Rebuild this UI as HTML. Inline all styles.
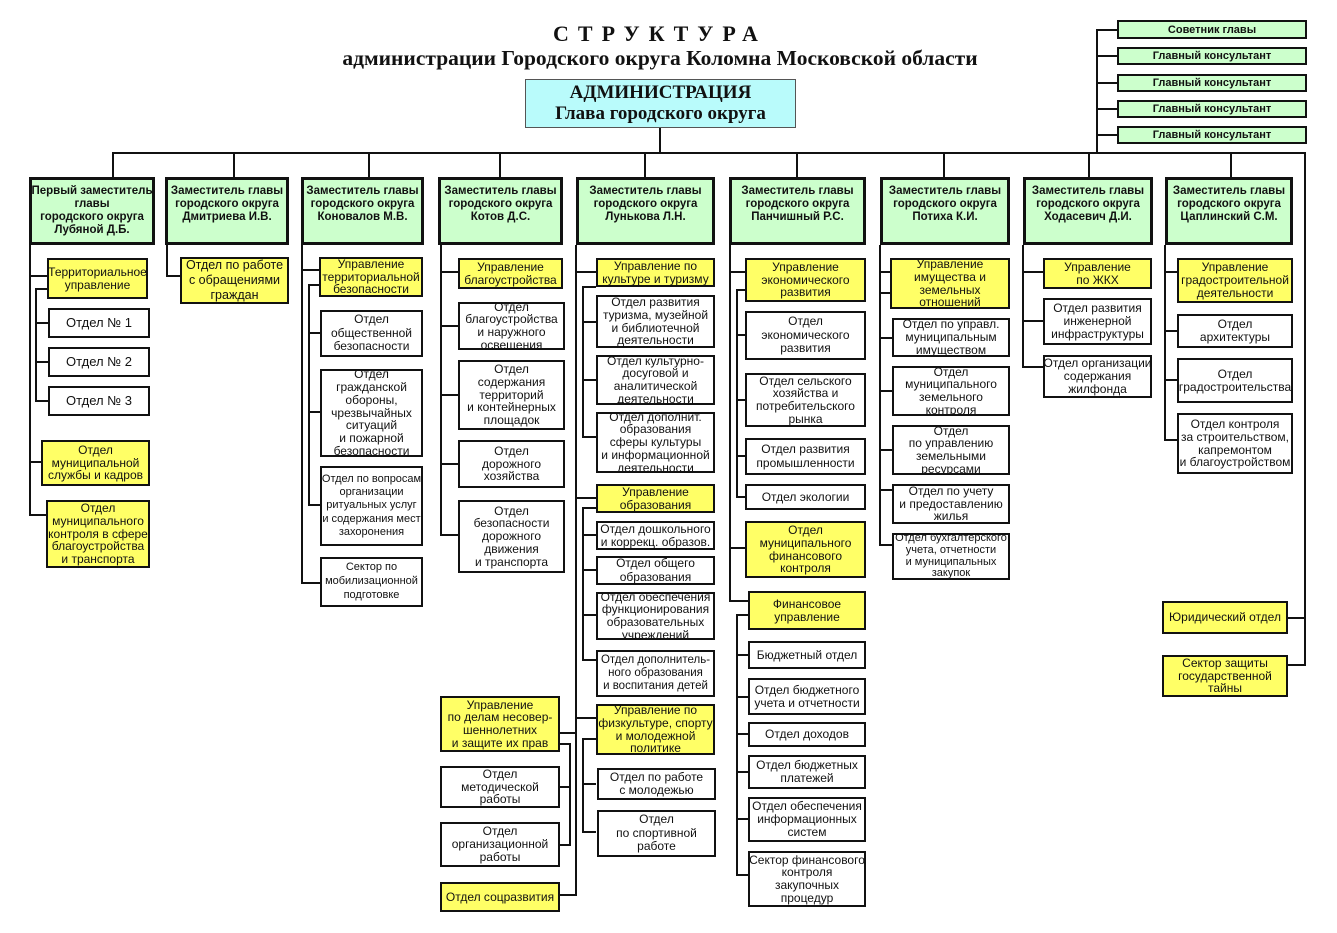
<!DOCTYPE html>
<html><head><meta charset="utf-8">
<style>
body{margin:0;width:1337px;height:933px;background:#fff;position:relative;overflow:hidden;font-family:"Liberation Sans","DejaVu Sans",sans-serif;}
.b{position:absolute;box-sizing:border-box;border:2px solid #111;display:flex;align-items:center;justify-content:center;text-align:center;font-size:12px;line-height:1.06;color:#111;overflow:hidden;white-space:nowrap}
.g{background:#ccffcc;font-weight:bold;font-size:11.5px;border-width:3px;align-items:flex-start;padding-top:5px;line-height:1.12}
.c{background:#ccffcc;font-weight:bold;font-size:11px;line-height:14px}
.y{background:#ffff66}
.w{background:#fff}
.h{position:absolute;height:2px;background:#111}
.v{position:absolute;width:2px;background:#111}
.t{position:absolute;font-family:"Liberation Serif",serif;font-weight:bold;text-align:center;color:#111}
</style></head><body>
<div class="t" style="left:300px;top:21px;width:720px;font-size:22px;letter-spacing:9px">СТРУКТУРА</div>
<div class="t" style="left:280px;top:46px;width:760px;font-size:21.5px">администрации Городского округа Коломна Московской области</div>
<div class="b" style="left:525px;top:79px;width:271px;height:49px;background:#b9fbfb;border:1px solid #555;font-family:'Liberation Serif',serif;font-weight:bold;font-size:19px;line-height:1.1">АДМИНИСТРАЦИЯ<br>Глава городского округа</div>

<!-- top lines -->
<div class="v" style="left:659px;top:128px;height:26px"></div>
<div class="h" style="left:113px;top:152px;width:1193px"></div>
<div class="v" style="left:1304px;top:152px;height:514px"></div>
<div class="v" style="left:1096px;top:29px;height:124px"></div>
<div class="h" style="left:1096px;top:29px;width:21px"></div>
<div class="h" style="left:1096px;top:55px;width:21px"></div>
<div class="h" style="left:1096px;top:82px;width:21px"></div>
<div class="h" style="left:1096px;top:108px;width:21px"></div>
<div class="h" style="left:1096px;top:134px;width:21px"></div>
<div class="b c" style="left:1117px;top:20px;width:190px;height:19px">Советник главы</div>
<div class="b c" style="left:1117px;top:47px;width:190px;height:18px">Главный консультант</div>
<div class="b c" style="left:1117px;top:74px;width:190px;height:18px">Главный консультант</div>
<div class="b c" style="left:1117px;top:100px;width:190px;height:18px">Главный консультант</div>
<div class="b c" style="left:1117px;top:126px;width:190px;height:18px">Главный консультант</div>

<div class="v" style="left:112px;top:152px;height:26px"></div>
<div class="v" style="left:233px;top:152px;height:26px"></div>
<div class="v" style="left:368px;top:152px;height:26px"></div>
<div class="v" style="left:499px;top:152px;height:26px"></div>
<div class="v" style="left:644px;top:152px;height:26px"></div>
<div class="v" style="left:796px;top:152px;height:26px"></div>
<div class="v" style="left:943px;top:152px;height:26px"></div>
<div class="v" style="left:1088px;top:152px;height:26px"></div>
<div class="v" style="left:1230px;top:152px;height:26px"></div>

<div class="b g" style="left:29px;top:177px;width:126px;height:68px">Первый заместитель<br>главы<br>городского округа<br>Лубяной Д.Б.</div>
<div class="b g" style="left:165px;top:177px;width:124px;height:68px">Заместитель главы<br>городского округа<br>Дмитриева И.В.</div>
<div class="b g" style="left:301px;top:177px;width:123px;height:68px">Заместитель главы<br>городского округа<br>Коновалов М.В.</div>
<div class="b g" style="left:438px;top:177px;width:125px;height:68px">Заместитель главы<br>городского округа<br>Котов Д.С.</div>
<div class="b g" style="left:576px;top:177px;width:139px;height:68px">Заместитель главы<br>городского округа<br>Лунькова Л.Н.</div>
<div class="b g" style="left:729px;top:177px;width:137px;height:68px">Заместитель главы<br>городского округа<br>Панчишный Р.С.</div>
<div class="b g" style="left:880px;top:177px;width:130px;height:68px">Заместитель главы<br>городского округа<br>Потиха К.И.</div>
<div class="b g" style="left:1023px;top:177px;width:130px;height:68px">Заместитель главы<br>городского округа<br>Ходасевич Д.И.</div>
<div class="b g" style="left:1165px;top:177px;width:128px;height:68px">Заместитель главы<br>городского округа<br>Цаплинский С.М.</div>

<!-- col1 -->
<div class="v" style="left:29px;top:245px;height:271px"></div>
<div class="h" style="left:29px;top:275px;width:18px"></div>
<div class="h" style="left:29px;top:461px;width:12px"></div>
<div class="h" style="left:29px;top:514px;width:17px"></div>
<div class="v" style="left:35px;top:288px;height:113px"></div>
<div class="h" style="left:35px;top:288px;width:12px"></div>
<div class="h" style="left:35px;top:322px;width:13px"></div>
<div class="h" style="left:35px;top:361px;width:13px"></div>
<div class="h" style="left:35px;top:400px;width:13px"></div>
<div class="b y" style="left:47px;top:258px;width:101px;height:41px">Территориальное<br>управление</div>
<div class="b w" style="left:48px;top:308px;width:102px;height:30px;font-size:13px">Отдел № 1</div>
<div class="b w" style="left:48px;top:347px;width:102px;height:30px;font-size:13px">Отдел № 2</div>
<div class="b w" style="left:48px;top:386px;width:102px;height:30px;font-size:13px">Отдел № 3</div>
<div class="b y" style="left:41px;top:440px;width:109px;height:46px">Отдел<br>муниципальной<br>службы и кадров</div>
<div class="b y" style="left:46px;top:500px;width:104px;height:68px">Отдел<br>муниципального<br>контроля в сфере<br>благоустройства<br>и транспорта</div>

<!-- col2 -->
<div class="v" style="left:166px;top:245px;height:32px"></div>
<div class="h" style="left:166px;top:275px;width:14px"></div>
<div class="b y" style="left:180px;top:257px;width:109px;height:47px;font-size:12.5px;line-height:1.2">Отдел по работе<br>с обращениями<br>граждан</div>

<!-- col3 -->
<div class="v" style="left:301px;top:245px;height:339px"></div>
<div class="h" style="left:301px;top:269px;width:18px"></div>
<div class="h" style="left:301px;top:582px;width:19px"></div>
<div class="v" style="left:308px;top:284px;height:222px"></div>
<div class="h" style="left:308px;top:284px;width:11px"></div>
<div class="h" style="left:308px;top:332px;width:12px"></div>
<div class="h" style="left:308px;top:411px;width:12px"></div>
<div class="h" style="left:308px;top:504px;width:12px"></div>
<div class="b y" style="left:319px;top:257px;width:104px;height:40px">Управление<br>территориальной<br>безопасности</div>
<div class="b w" style="left:320px;top:310px;width:103px;height:47px;line-height:1.15">Отдел<br>общественной<br>безопасности</div>
<div class="b w" style="left:320px;top:369px;width:103px;height:88px">Отдел<br>гражданской<br>обороны,<br>чрезвычайных<br>ситуаций<br>и пожарной<br>безопасности</div>
<div class="b w" style="left:320px;top:466px;width:103px;height:80px;font-size:11px;line-height:1.2">Отдел по вопросам<br>организации<br>ритуальных услуг<br>и содержания мест<br>захоронения</div>
<div class="b w" style="left:320px;top:557px;width:103px;height:50px;font-size:11px;line-height:1.25">Сектор по<br>мобилизационной<br>подготовке</div>

<!-- col4 -->
<div class="v" style="left:440px;top:245px;height:291px"></div>
<div class="h" style="left:440px;top:271px;width:18px"></div>
<div class="h" style="left:440px;top:325px;width:18px"></div>
<div class="h" style="left:440px;top:394px;width:18px"></div>
<div class="h" style="left:440px;top:463px;width:18px"></div>
<div class="h" style="left:440px;top:534px;width:18px"></div>
<div class="b y" style="left:458px;top:258px;width:105px;height:31px">Управление<br>благоустройства</div>
<div class="b w" style="left:458px;top:302px;width:107px;height:48px">Отдел<br>благоустройства<br>и наружного<br>освещения</div>
<div class="b w" style="left:458px;top:360px;width:107px;height:70px">Отдел<br>содержания<br>территорий<br>и контейнерных<br>площадок</div>
<div class="b w" style="left:458px;top:440px;width:107px;height:48px">Отдел<br>дорожного<br>хозяйства</div>
<div class="b w" style="left:458px;top:500px;width:107px;height:73px">Отдел<br>безопасности<br>дорожного<br>движения<br>и транспорта</div>

<!-- col5 -->
<div class="v" style="left:575px;top:245px;height:651px"></div>
<div class="h" style="left:575px;top:271px;width:21px"></div>
<div class="h" style="left:575px;top:497px;width:21px"></div>
<div class="h" style="left:575px;top:717px;width:21px"></div>
<div class="v" style="left:582px;top:286px;height:152px"></div>
<div class="h" style="left:582px;top:286px;width:14px"></div>
<div class="h" style="left:582px;top:321px;width:14px"></div>
<div class="h" style="left:582px;top:379px;width:14px"></div>
<div class="h" style="left:582px;top:436px;width:14px"></div>
<div class="b y" style="left:596px;top:258px;width:119px;height:29px">Управление по<br>культуре и туризму</div>
<div class="b w" style="left:596px;top:295px;width:119px;height:53px">Отдел развития<br>туризма, музейной<br>и библиотечной<br>деятельности</div>
<div class="b w" style="left:596px;top:355px;width:119px;height:50px">Отдел культурно-<br>досуговой и<br>аналитической<br>деятельности</div>
<div class="b w" style="left:596px;top:412px;width:119px;height:61px">Отдел дополнит.<br>образования<br>сферы культуры<br>и информационной<br>деятельности</div>
<div class="v" style="left:582px;top:507px;height:154px"></div>
<div class="h" style="left:582px;top:507px;width:14px"></div>
<div class="h" style="left:582px;top:534px;width:14px"></div>
<div class="h" style="left:582px;top:569px;width:14px"></div>
<div class="h" style="left:582px;top:614px;width:14px"></div>
<div class="h" style="left:582px;top:659px;width:14px"></div>
<div class="b y" style="left:596px;top:484px;width:119px;height:29px">Управление<br>образования</div>
<div class="b w" style="left:596px;top:521px;width:119px;height:29px">Отдел дошкольного<br>и коррекц. образов.</div>
<div class="b w" style="left:596px;top:556px;width:119px;height:29px;line-height:1.15">Отдел общего<br>образования</div>
<div class="b w" style="left:596px;top:592px;width:119px;height:48px">Отдел обеспечения<br>функционирования<br>образовательных<br>учреждений</div>
<div class="b w" style="left:596px;top:650px;width:119px;height:47px;font-size:11.5px;line-height:1.15">Отдел дополнитель-<br>ного образования<br>и воспитания детей</div>
<div class="v" style="left:582px;top:738px;height:95px"></div>
<div class="h" style="left:582px;top:738px;width:14px"></div>
<div class="h" style="left:582px;top:783px;width:14px"></div>
<div class="h" style="left:582px;top:831px;width:14px"></div>
<div class="b y" style="left:596px;top:704px;width:119px;height:51px">Управление по<br>физкультуре, спорту<br>и молодежной<br>политике</div>
<div class="b w" style="left:597px;top:768px;width:119px;height:32px">Отдел по работе<br>с молодежью</div>
<div class="b w" style="left:597px;top:810px;width:119px;height:47px;line-height:1.15">Отдел<br>по спортивной<br>работе</div>
<!-- minors -->
<div class="h" style="left:560px;top:732px;width:16px"></div>
<div class="h" style="left:560px;top:894px;width:16px"></div>
<div class="v" style="left:569px;top:743px;height:103px"></div>
<div class="h" style="left:560px;top:743px;width:10px"></div>
<div class="h" style="left:560px;top:786px;width:10px"></div>
<div class="h" style="left:560px;top:844px;width:10px"></div>
<div class="b y" style="left:440px;top:696px;width:120px;height:56px">Управление<br>по делам несовер-<br>шеннолетних<br>и защите их прав</div>
<div class="b w" style="left:440px;top:766px;width:120px;height:42px">Отдел<br>методической<br>работы</div>
<div class="b w" style="left:440px;top:822px;width:120px;height:45px">Отдел<br>организационной<br>работы</div>
<div class="b y" style="left:440px;top:882px;width:120px;height:30px">Отдел соцразвития</div>

<!-- col6 -->
<div class="v" style="left:729px;top:245px;height:357px"></div>
<div class="h" style="left:729px;top:271px;width:16px"></div>
<div class="h" style="left:729px;top:547px;width:16px"></div>
<div class="h" style="left:729px;top:600px;width:19px"></div>
<div class="v" style="left:736px;top:289px;height:209px"></div>
<div class="h" style="left:736px;top:289px;width:9px"></div>
<div class="h" style="left:736px;top:334px;width:9px"></div>
<div class="h" style="left:736px;top:399px;width:9px"></div>
<div class="h" style="left:736px;top:455px;width:9px"></div>
<div class="h" style="left:736px;top:496px;width:9px"></div>
<div class="b y" style="left:745px;top:258px;width:121px;height:44px">Управление<br>экономического<br>развития</div>
<div class="b w" style="left:745px;top:311px;width:121px;height:49px;line-height:1.15">Отдел<br>экономического<br>развития</div>
<div class="b w" style="left:745px;top:373px;width:121px;height:54px">Отдел сельского<br>хозяйства и<br>потребительского<br>рынка</div>
<div class="b w" style="left:745px;top:438px;width:121px;height:37px;line-height:1.15">Отдел развития<br>промышленности</div>
<div class="b w" style="left:745px;top:484px;width:121px;height:26px">Отдел экологии</div>
<div class="b y" style="left:745px;top:521px;width:121px;height:57px">Отдел<br>муниципального<br>финансового<br>контроля</div>
<div class="v" style="left:736px;top:614px;height:262px"></div>
<div class="h" style="left:736px;top:614px;width:12px"></div>
<div class="h" style="left:736px;top:654px;width:12px"></div>
<div class="h" style="left:736px;top:696px;width:12px"></div>
<div class="h" style="left:736px;top:733px;width:12px"></div>
<div class="h" style="left:736px;top:771px;width:12px"></div>
<div class="h" style="left:736px;top:818px;width:12px"></div>
<div class="h" style="left:736px;top:874px;width:12px"></div>
<div class="b y" style="left:748px;top:591px;width:118px;height:39px">Финансовое<br>управление</div>
<div class="b w" style="left:748px;top:641px;width:118px;height:28px">Бюджетный отдел</div>
<div class="b w" style="left:748px;top:678px;width:118px;height:37px">Отдел бюджетного<br>учета и отчетности</div>
<div class="b w" style="left:748px;top:722px;width:118px;height:25px">Отдел доходов</div>
<div class="b w" style="left:748px;top:755px;width:118px;height:34px">Отдел бюджетных<br>платежей</div>
<div class="b w" style="left:748px;top:797px;width:118px;height:45px">Отдел обеспечения<br>информационных<br>систем</div>
<div class="b w" style="left:748px;top:851px;width:118px;height:56px">Сектор финансового<br>контроля<br>закупочных<br>процедур</div>

<!-- col7 -->
<div class="v" style="left:879px;top:245px;height:301px"></div>
<div class="h" style="left:879px;top:271px;width:11px"></div>
<div class="h" style="left:879px;top:292px;width:11px"></div>
<div class="h" style="left:879px;top:337px;width:13px"></div>
<div class="h" style="left:879px;top:390px;width:13px"></div>
<div class="h" style="left:879px;top:449px;width:13px"></div>
<div class="h" style="left:879px;top:489px;width:13px"></div>
<div class="h" style="left:879px;top:544px;width:13px"></div>
<div class="b y" style="left:890px;top:258px;width:120px;height:51px">Управление<br>имущества и<br>земельных<br>отношений</div>
<div class="b w" style="left:892px;top:318px;width:118px;height:39px">Отдел по управл.<br>муниципальным<br>имуществом</div>
<div class="b w" style="left:892px;top:366px;width:118px;height:50px">Отдел<br>муниципального<br>земельного<br>контроля</div>
<div class="b w" style="left:892px;top:425px;width:118px;height:50px">Отдел<br>по управлению<br>земельными<br>ресурсами</div>
<div class="b w" style="left:892px;top:484px;width:118px;height:40px">Отдел по учету<br>и предоставлению<br>жилья</div>
<div class="b w" style="left:892px;top:533px;width:118px;height:47px;font-size:11px">Отдел бухгалтерского<br>учета, отчетности<br>и муниципальных<br>закупок</div>

<!-- col8 -->
<div class="v" style="left:1022px;top:245px;height:123px"></div>
<div class="h" style="left:1022px;top:271px;width:21px"></div>
<div class="h" style="left:1022px;top:320px;width:21px"></div>
<div class="h" style="left:1022px;top:366px;width:21px"></div>
<div class="b y" style="left:1043px;top:258px;width:109px;height:31px">Управление<br>по ЖКХ</div>
<div class="b w" style="left:1043px;top:298px;width:109px;height:47px">Отдел развития<br>инженерной<br>инфраструктуры</div>
<div class="b w" style="left:1043px;top:355px;width:109px;height:43px">Отдел организации<br>содержания<br>жилфонда</div>

<!-- col9 -->
<div class="v" style="left:1164px;top:245px;height:196px"></div>
<div class="h" style="left:1164px;top:271px;width:13px"></div>
<div class="h" style="left:1164px;top:330px;width:13px"></div>
<div class="h" style="left:1164px;top:379px;width:13px"></div>
<div class="h" style="left:1164px;top:439px;width:13px"></div>
<div class="b y" style="left:1177px;top:258px;width:116px;height:45px">Управление<br>градостроительной<br>деятельности</div>
<div class="b w" style="left:1177px;top:314px;width:116px;height:34px">Отдел<br>архитектуры</div>
<div class="b w" style="left:1177px;top:358px;width:116px;height:45px">Отдел<br>градостроительства</div>
<div class="b w" style="left:1177px;top:413px;width:116px;height:61px">Отдел контроля<br>за строительством,<br>капремонтом<br>и благоустройством</div>

<div class="h" style="left:1288px;top:617px;width:17px"></div>
<div class="h" style="left:1288px;top:664px;width:17px"></div>
<div class="b y" style="left:1162px;top:601px;width:126px;height:33px">Юридический отдел</div>
<div class="b y" style="left:1162px;top:655px;width:126px;height:42px">Сектор защиты<br>государственной<br>тайны</div>
</body></html>
